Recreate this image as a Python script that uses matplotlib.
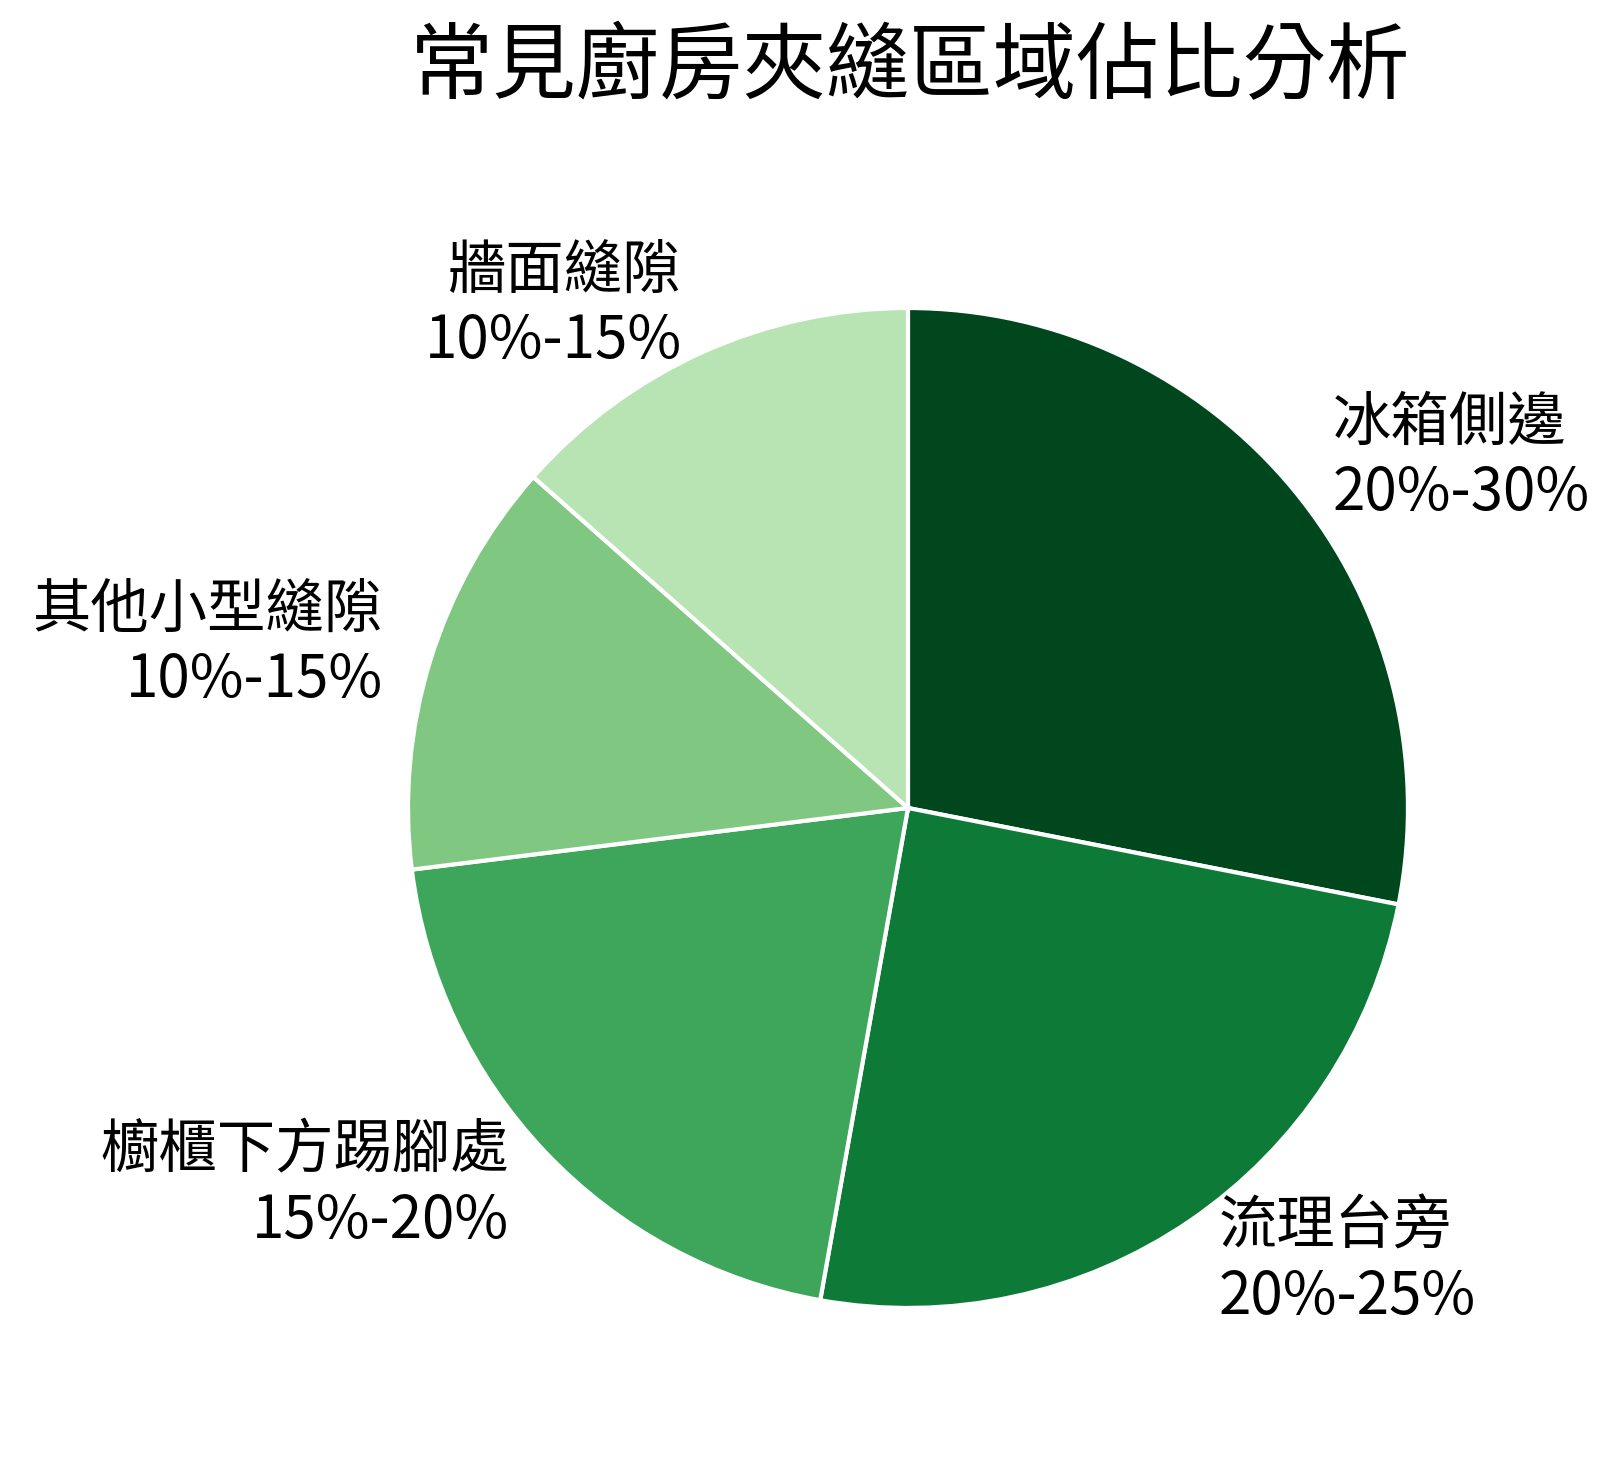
import matplotlib.pyplot as plt

plt.rcParams['font.family'] = ['Noto Sans CJK TC', 'DejaVu Sans']

# 各區域名稱與估計佔比
names = ["冰箱側邊", "流理台旁", "櫥櫃下方踢腳處", "其他小型縫隙", "牆面縫隙"]
ranges = ["20%-30%", "20%-25%", "15%-20%", "10%-15%", "10%-15%"]
values = [25, 22, 18, 12, 12]
colors = ["#00471d", "#0e7a38", "#3ea65b", "#80c882", "#b8e3b2"]

labels = [f"{n}\n{r}" for n, r in zip(names, ranges)]

fig = plt.figure(figsize=(8.115, 7.34), dpi=200)
ax = fig.add_axes([0.2514, 0.109, 0.6161, 0.6812])

wedges, texts = ax.pie(
    values,
    labels=labels,
    colors=colors,
    startangle=90,
    counterclock=False,
    labeldistance=1.1,
    wedgeprops={"edgecolor": "white", "linewidth": 1.5},
    textprops={"fontsize": 21},
)
ax.set_xlim(-1, 1)
ax.set_ylim(-1, 1)
ax.set_aspect("equal")

fig.text(0.5607, 1 - 68 / 1468, "常見廚房夾縫區域佔比分析",
         ha="center", va="center", fontsize=30)

plt.savefig("out.png", dpi=200)
plt.close()
